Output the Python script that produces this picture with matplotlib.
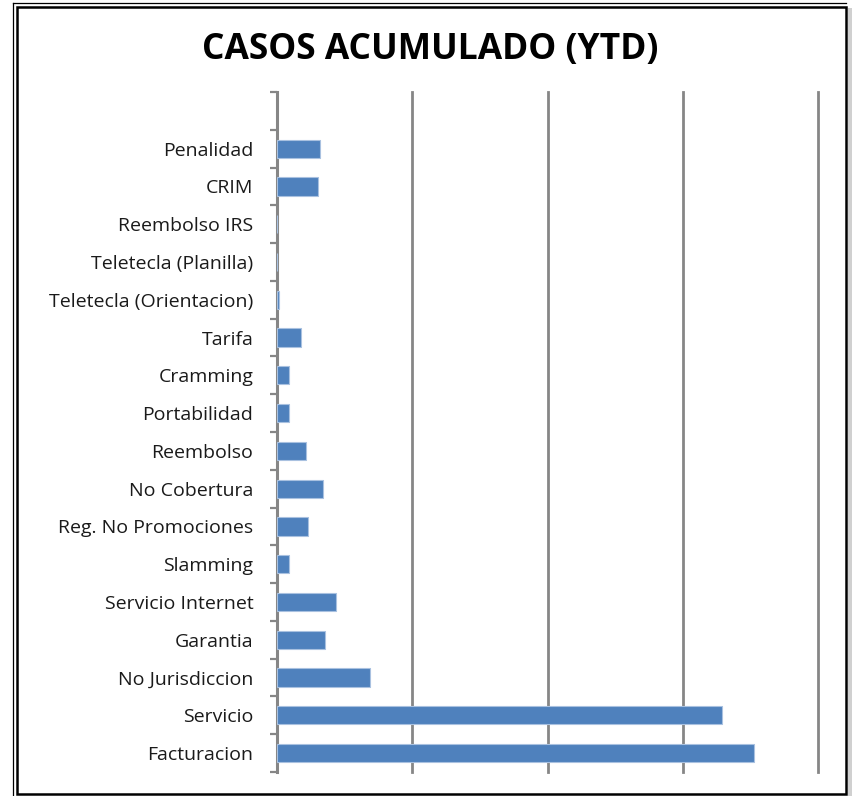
import numpy as np
import matplotlib.pyplot as plt
from matplotlib.patches import Rectangle
from matplotlib.lines import Line2D

# datos (de abajo hacia arriba)
categorias = ["Facturacion", "Servicio", "No Jurisdiccion", "Garantia",
              "Servicio Internet", "Slamming", "Reg. No Promociones",
              "No Cobertura", "Reembolso", "Portabilidad", "Cramming",
              "Tarifa", "Teletecla (Orientacion)", "Teletecla (Planilla)",
              "Reembolso IRS", "CRIM", "Penalidad"]
casos = [1764, 1644, 344, 176, 217, 43, 113, 171, 107, 44, 44,
         89, 6, 0, 0, 153, 158]
grid_x = [500, 1000, 1500, 2000]

W, H = 853, 796
fig = plt.figure(figsize=(W / 100, H / 100), dpi=100)
plt.rcParams['font.family'] = ['Open Sans', 'DejaVu Sans']

def fx(px):
    return px / W

def fy(py):
    return 1 - py / H

ax = fig.add_axes([fx(277), fy(772), fx(818) - fx(277), fy(92) - fy(772)])

y = np.arange(len(categorias))
ax.barh(y, casos, height=0.48, color='#4F81BD', edgecolor='#A9C1E0',
        linewidth=0.8, zorder=3)

# una ranura vacia arriba, como en el original
n = len(categorias) + 1
ax.set_xlim(0, 2000)
ax.set_ylim(-0.5, n - 0.5)
for g in grid_x:
    ax.axvline(g, color='#868686', lw=2.0, zorder=1, clip_on=False)

ax.set_xticks([])
ax.set_yticks(y)
ax.set_yticklabels(categorias, fontsize=14, color='#1a1a1a')
ax.set_yticks(np.arange(-0.5, n), minor=True)
ax.tick_params(axis='y', which='major', length=0, pad=17)
ax.tick_params(axis='y', which='minor', length=5, width=1.6,
               color='#868686', direction='out')

for s in ['top', 'right', 'bottom']:
    ax.spines[s].set_visible(False)
ax.spines['left'].set_color('#868686')
ax.spines['left'].set_linewidth(2.2)

fig.text(fx(430), fy(50), "CASOS ACUMULADO (YTD)", ha='center', va='center',
         fontsize=25.5, fontweight='bold', color='black')

# marco del grafico
fig.add_artist(Rectangle((fx(17), fy(794)), fx(846) - fx(17), fy(7) - fy(794),
                         transform=fig.transFigure, fill=False,
                         edgecolor='black', lw=1.8))
fig.add_artist(Line2D([fx(13), fx(13)], [fy(3), fy(796)],
                      transform=fig.transFigure, color='black', lw=0.9))
fig.add_artist(Line2D([fx(13), fx(846)], [fy(3), fy(3)],
                      transform=fig.transFigure, color='black', lw=0.9))
fig.add_artist(Rectangle((fx(848), 0), fx(853) - fx(848), fy(8),
                         transform=fig.transFigure, facecolor='#d0d0d0',
                         edgecolor='none', hatch='....'))

fig.savefig("out.png", dpi=100)
